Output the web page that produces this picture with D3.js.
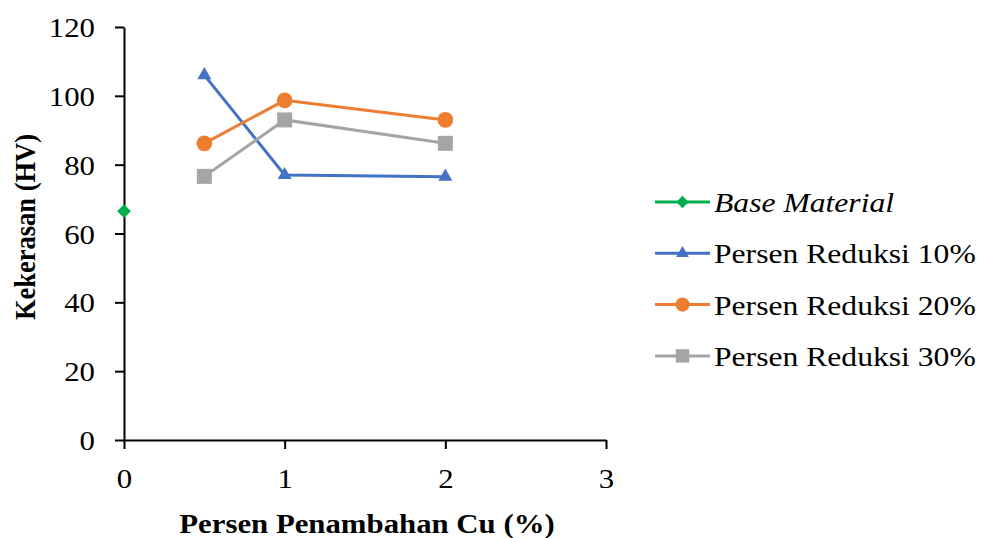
<!DOCTYPE html>
<html>
<head>
<meta charset="utf-8">
<script src="https://cdn.jsdelivr.net/npm/d3@7"></script>
<style>
  body { margin: 0; background: #fff; }
  svg { font-family: "Liberation Serif", "Times New Roman", serif; }
</style>
</head>
<body>
<svg id="chart" width="982" height="538"></svg>
<script>
// data
var xCu = [0.5, 1, 2];
var baseX = [0];
var baseVals = [66.5];
var reduksi10 = [106, 77, 76.5];
var reduksi20 = [86.2, 98.7, 93];
var reduksi30 = [76.6, 93, 86.2];
var seriesNames = ['Base Material', 'Persen Reduksi 10%', 'Persen Reduksi 20%', 'Persen Reduksi 30%'];
var xTicks = [0, 1, 2, 3];
var yTicks = [0, 20, 40, 60, 80, 100, 120];

// the reference glyphs look a bit wide, so horizontal text gets stretched
var stretch = 1.1;

var diamond = {
  draw: function (ctx, size) {
    var r = Math.sqrt(size / 2);
    ctx.moveTo(0, -r); ctx.lineTo(r, 0); ctx.lineTo(0, r); ctx.lineTo(-r, 0); ctx.closePath();
  }
};

var series = [
  { name: seriesNames[0], xs: baseX, ys: baseVals, color: '#00B050', symbol: diamond, size: 95, italic: true },
  { name: seriesNames[1], xs: xCu, ys: reduksi10, color: '#4472C4', symbol: d3.symbolTriangle, size: 85 },
  { name: seriesNames[2], xs: xCu, ys: reduksi20, color: '#ED7D31', symbol: d3.symbolCircle, size: 195 },
  { name: seriesNames[3], xs: xCu, ys: reduksi30, color: '#A5A5A5', symbol: d3.symbolSquare, size: 225 }
];

var svg = d3.select('#chart');
var margin = { left: 124, top: 27, right: 376, bottom: 98 };
var width = 982 - margin.left - margin.right;
var height = 538 - margin.top - margin.bottom;

var x = d3.scaleLinear().domain([0, 3]).range([0, width]);
var y = d3.scaleLinear().domain([0, 120]).range([height, 0]);

var g = svg.append('g')
  .attr('transform', 'translate(' + margin.left + ',' + margin.top + ')');

// y axis
var yAxis = g.append('g')
  .call(d3.axisLeft(y).tickValues(yTicks).tickSize(9).tickSizeOuter(0));
// x axis
var xAxis = g.append('g')
  .attr('transform', 'translate(0,' + height + ')')
  .call(d3.axisBottom(x).tickValues(xTicks).tickFormat(d3.format('d')).tickSize(9).tickSizeOuter(0));

[yAxis, xAxis].forEach(function (ax) {
  ax.select('.domain').attr('stroke', '#000').attr('stroke-width', 2);
  ax.selectAll('.tick line').attr('stroke', '#000').attr('stroke-width', 2);
  ax.selectAll('.tick text')
    .attr('fill', '#000')
    .style('font-size', '28px')
    .style('font-family', '"Liberation Serif", serif');
});

yAxis.selectAll('.tick text')
  .attr('x', null)
  .attr('dy', '0.34em')
  .attr('transform', 'translate(-29,0) scale(' + stretch + ',1)');

xAxis.selectAll('.tick text')
  .attr('y', null)
  .attr('dy', null)
  .attr('transform', 'translate(0,48) scale(' + stretch + ',1)');

var line = d3.line()
  .x(function (d) { return x(d[0]); })
  .y(function (d) { return y(d[1]); });

series.forEach(function (s) {
  var pts = s.xs.map(function (v, i) { return [v, s.ys[i]]; });
  if (pts.length > 1) {
    g.append('path')
      .datum(pts)
      .attr('fill', 'none')
      .attr('stroke', s.color)
      .attr('stroke-width', 3)
      .attr('d', line);
  }
  g.selectAll(null)
    .data(pts)
    .enter().append('path')
    .attr('d', d3.symbol().type(s.symbol).size(s.size))
    .attr('fill', s.color)
    .attr('transform', function (d) { return 'translate(' + x(d[0]) + ',' + y(d[1]) + ')'; });
});

// axis titles
svg.append('text')
  .attr('transform', 'translate(' + (margin.left + x(1.5) + 2) + ',533) scale(' + stretch + ',1)')
  .attr('text-anchor', 'middle')
  .style('font-size', '28px')
  .style('font-weight', 'bold')
  .text('Persen Penambahan Cu (%)');

svg.append('text')
  .attr('transform', 'translate(35,227) rotate(-90) scale(1,' + stretch + ')')
  .attr('text-anchor', 'middle')
  .style('font-size', '26.5px')
  .style('font-weight', 'bold')
  .text('Kekerasan (HV)');

// legend
var legend = svg.append('g').attr('transform', 'translate(655,202)');
series.forEach(function (s, i) {
  var row = legend.append('g').attr('transform', 'translate(0,' + (i * 51.3) + ')');
  row.append('line')
    .attr('x1', 0).attr('x2', 55)
    .attr('stroke', s.color).attr('stroke-width', 3);
  row.append('path')
    .attr('d', d3.symbol().type(s.symbol).size(s.size * 0.8))
    .attr('fill', s.color)
    .attr('transform', 'translate(27.5,0)');
  row.append('text')
    .attr('transform', 'translate(59,10) scale(' + (stretch + 0.03) + ',1)')
    .style('font-size', '28px')
    .style('font-style', s.italic ? 'italic' : 'normal')
    .text(s.name);
});
</script>
</body>
</html>
